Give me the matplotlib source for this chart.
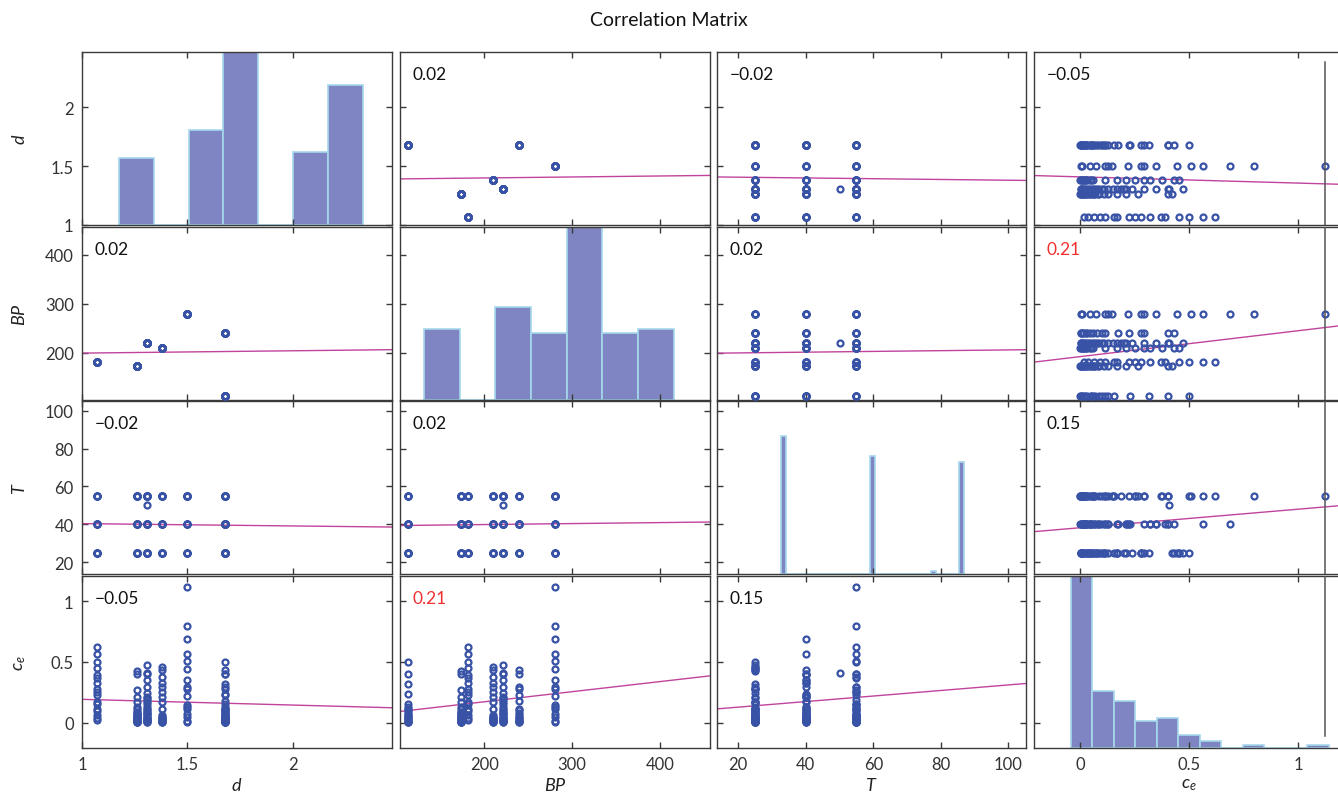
import numpy as np
import matplotlib
matplotlib.use('Agg')
import matplotlib.pyplot as plt
from matplotlib.ticker import FuncFormatter

plt.rcParams['font.family'] = ['Lato', 'DejaVu Sans']
plt.rcParams['mathtext.fontset'] = 'custom'
plt.rcParams['mathtext.it'] = 'Lato:italic'
plt.rcParams['mathtext.rm'] = 'Lato'

# ---- data ----
var_labels = [r'$d$', r'$BP$', r'$T$', r'$c_e$']

# one entry per (d, BP) run, equilibrium conc. measured at 25 / 40 / 55 C
run_d = [1.07, 1.26, 1.31, 1.38, 1.50, 1.68, 1.68]
run_bp = [182, 174, 221, 210, 280, 113, 240]
run_temps = [25, 40, 55]
ce_runs = [
    [[0.50, 0.452, 0.281, 0.171, 0.094, 0.039],
     [0.565, 0.391, 0.323, 0.226, 0.116, 0.019],
     [0.62, 0.372, 0.254, 0.157, 0.066]],
    [[0.424, 0.212, 0.11, 0.06, 0.025, 0.005, 0.085, 0.04],
     [0.405, 0.171, 0.09, 0.045, 0.015, 0.004, 0.065, 0.03],
     [0.267, 0.13, 0.07, 0.035, 0.008, 0.002, 0.055, 0.02]],
    [[0.474, 0.24, 0.17, 0.11, 0.05, 0.01, 0.003, 0.2, 0.08],
     [0.35, 0.21, 0.13, 0.07, 0.035, 0.012, 0.1, 0.025],
     [0.405, 0.295, 0.19, 0.15, 0.09, 0.02, 0.005, 0.06, 0.04]],
    [[0.455, 0.295, 0.171, 0.06, 0.018, 0.004, 0.035],
     [0.433, 0.323, 0.212, 0.045, 0.008, 0.025],
     [0.378, 0.254, 0.116, 0.03, 0.002, 0.05, 0.013]],
    [[0.446, 0.281, 0.13, 0.074, 0.006],
     [0.686, 0.35, 0.22, 0.116, 0.047],
     [1.121, 0.799, 0.565, 0.507, 0.295, 0.149, 0.01]],
    [[0.317, 0.157, 0.07, 0.035, 0.008, 0.1, 0.05],
     [0.405, 0.232, 0.09, 0.05, 0.002, 0.13, 0.025],
     [0.50, 0.116, 0.02, 0.006, 0.06]],
    [[0.433, 0.281, 0.116, 0.045, 0.005, 0.015],
     [0.295, 0.176, 0.06, 0.015, 0.08, 0.035],
     [0.405, 0.226, 0.03, 0.004, 0.1]],
]
# single extra run at 50 C
extra_d = [1.31]
extra_bp = [221]
extra_t = [50]
extra_ce = [0.41]

# pairwise correlation coefficients shown in the panels
corr_r = [[1.00, 0.02, -0.02, -0.05],
          [0.02, 1.00, 0.02, 0.21],
          [-0.02, 0.02, 1.00, 0.15],
          [-0.05, 0.21, 0.15, 1.00]]

# diagonal histogram counts
hist_d = [12, 0, 17, 35, 0, 13, 25]
hist_bp = [16, 0, 21, 15, 45, 15, 16]
hist_t = [48] + [0] * 15 + [41] + [0] * 10 + [1] + [0] * 4 + [39]
hist_ce = [64, 17, 14, 8, 9, 4, 2, 0, 1, 0, 0, 1]

# ---- axis setup ----
lims = [(1.0, 2.47), (104, 457), (13.7, 105.2), (-0.21, 1.21)]
ticks = [[1, 1.5, 2], [200, 300, 400], [20, 40, 60, 80, 100], [0, 0.5, 1]]
hist_counts = [hist_d, hist_bp, hist_t, hist_ce]
hist_span = [(0.119, 0.906), (0.078, 0.883), (0.2057, 0.80), (0.118, 0.950)]
hist_top = [31, 39, 60, 51]

d, bp, t, ce = [], [], [], []
for k in range(len(run_d)):
    for temp, vals in zip(run_temps, ce_runs[k]):
        for v in vals:
            d.append(run_d[k])
            bp.append(run_bp[k])
            t.append(temp)
            ce.append(v)
d += extra_d
bp += extra_bp
t += extra_t
ce += extra_ce
cols = [np.array(d), np.array(bp, float), np.array(t, float), np.array(ce)]

W, H = 1338, 803
col_px = [(82, 392), (400, 710), (717, 1026), (1034, 1344)]
row_px = [(53, 226), (228, 401), (402, 575), (577, 749)]

marker_c = '#3852A6'
line_c = '#C0449C'
bar_fc = '#7F85C2'
bar_ec = '#A6D8EC'
spine_c = '#3a3a3a'
fmt = FuncFormatter(lambda v, p: f'{v:g}')

fig = plt.figure(figsize=(W / 100, H / 100), dpi=100)
fig.text(0.5, 1 - 20 / H, 'Correlation Matrix', ha='center', va='center',
         fontsize=14, color='#111111')

for i in range(4):
    for j in range(4):
        x0, x1 = col_px[j]
        y0, y1 = row_px[i]
        rect = [x0 / W, 1 - y1 / H, (x1 - x0) / W, (y1 - y0) / H]

        if i == j:
            # histogram lives in its own hidden axes underneath
            hx = fig.add_axes(rect, zorder=0)
            hx.axis('off')
            counts = hist_counts[i]
            lo, hi = hist_span[i]
            edges = np.linspace(lo, hi, len(counts) + 1)
            hx.bar(edges[:-1], counts, width=np.diff(edges), align='edge',
                   color=bar_fc, edgecolor=bar_ec, linewidth=1.2)
            hx.set_xlim(0, 1)
            hx.set_ylim(0, hist_top[i])

        ax = fig.add_axes(rect, zorder=1)
        ax.patch.set_alpha(0)
        ax.set_xlim(lims[j])
        ax.set_ylim(lims[i])

        if i != j:
            x, y = cols[j], cols[i]
            ax.plot(x, y, 'o', ms=4.3, mfc='none', mec=marker_c, mew=1.6,
                    zorder=3)
            r = corr_r[i][j]
            mx, my = x.mean(), y.mean()
            xs = np.array(lims[j])
            ys = my + r * y.std() / x.std() * (xs - mx)
            ax.plot(xs, ys, color=line_c, lw=1.0, zorder=2)
            txt = f'{r:.2f}'.replace('-', '\u2212')
            ax.text(0.04, 0.87, txt, transform=ax.transAxes, ha='left',
                    va='center', fontsize=12.5,
                    color='#F03030' if abs(r) >= 0.2 else '#111111')

        if j == 3:
            span = [(0, 0.94), (0, 1), (0, 1), (0.07, 1)][i]
            ax.axvline(cols[3].max(), ymin=span[0], ymax=span[1],
                       color='#555555', lw=1.1, zorder=4)

        ax.set_xticks(ticks[j])
        ax.set_yticks(ticks[i])
        ax.xaxis.set_major_formatter(fmt)
        ax.yaxis.set_major_formatter(fmt)
        ax.tick_params(direction='in', length=4, width=1, top=True,
                       right=True, labelleft=(j == 0),
                       labelbottom=(i == 3), colors=spine_c,
                       labelcolor='#333333', labelsize=12, pad=6)
        for s in ax.spines.values():
            s.set_color(spine_c)
            s.set_linewidth(1.0)

        if j == 0:
            ax.set_ylabel(var_labels[i], fontsize=13, color='#222222')
            ax.yaxis.set_label_coords(-0.175, 0.5)
        if i == 3:
            ax.set_xlabel(var_labels[j], fontsize=13, color='#222222')
            ax.xaxis.set_label_coords(0.5, -0.16)

fig.savefig('out.png', dpi=100)
